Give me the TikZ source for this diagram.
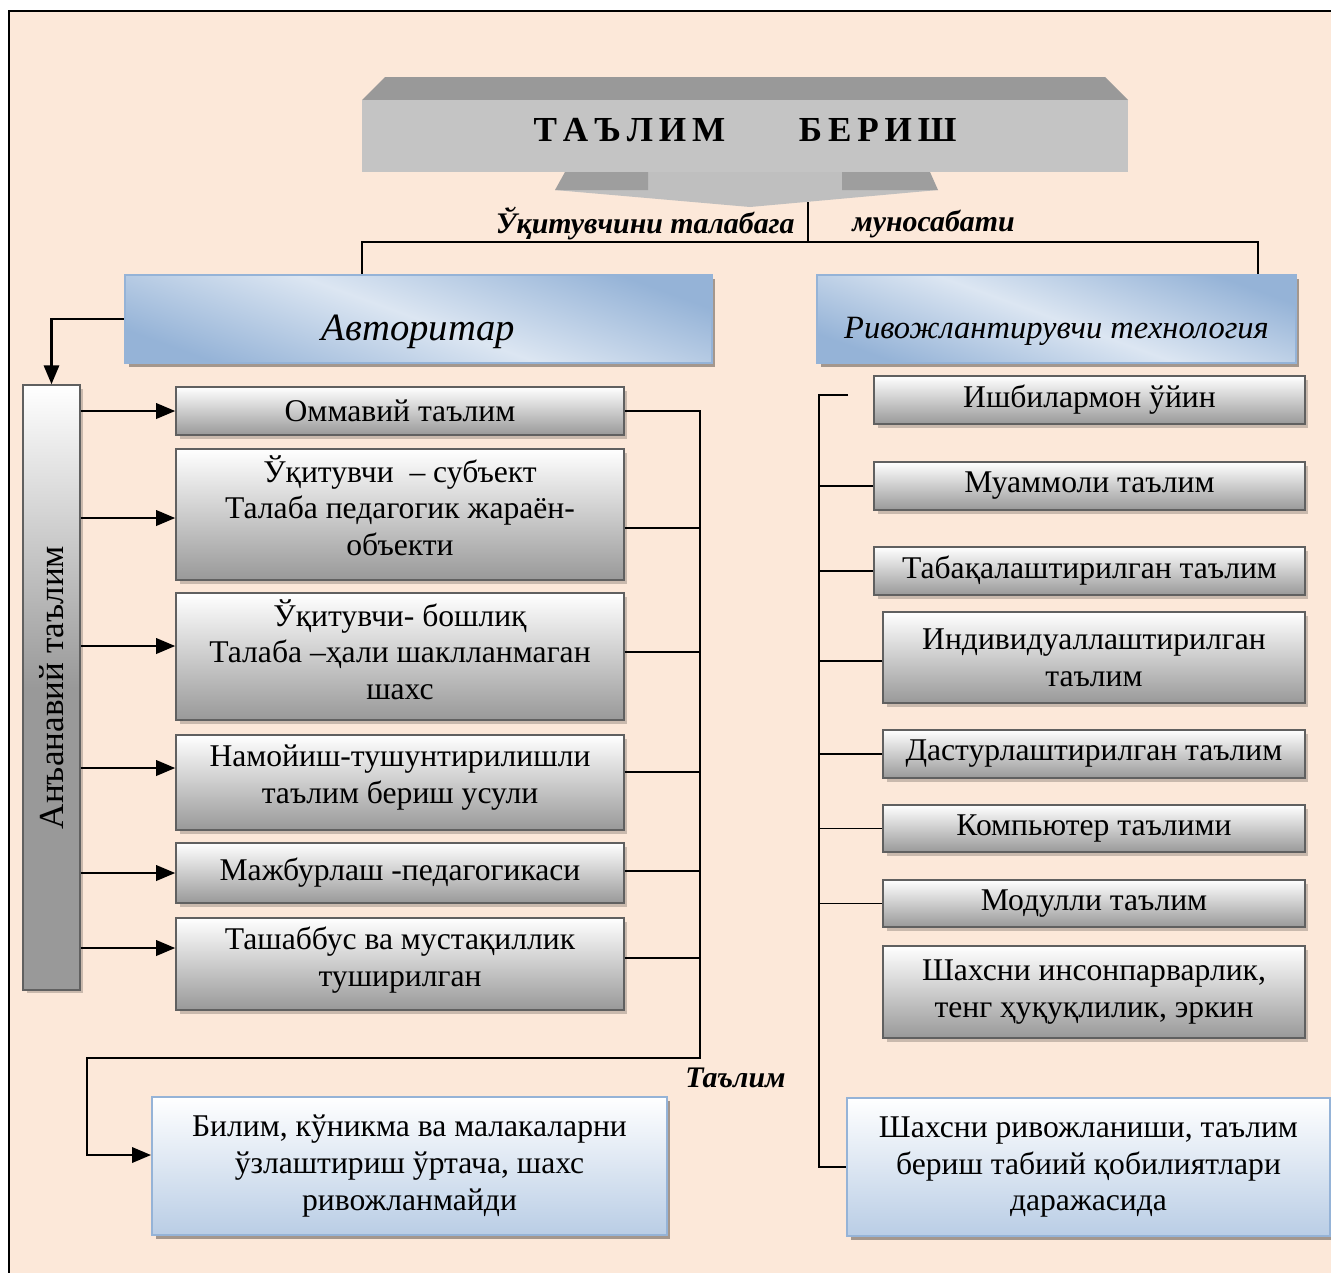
\documentclass[tikz,border=0pt]{standalone}
\usepackage{fontspec}
\setmainfont{Liberation Serif}
\usetikzlibrary{arrows,calc,shadows}
\definecolor{peach}{HTML}{FCE8D9}
\definecolor{lightblue}{HTML}{DCE6F2}
\definecolor{midblue}{HTML}{95B3D7}
\definecolor{paleblue}{HTML}{B9CDE5}
\definecolor{boxgray}{HTML}{999999}
\definecolor{edgegray}{HTML}{606060}

\begin{document}
\begin{tikzpicture}[x=0.02cm,y=-0.02cm]
\tikzstyle{graybox} = [draw=edgegray, line width=1.1pt, top color=white, bottom color=boxgray, align=center, inner sep=0pt,
  font=\fontsize{18}{21}\selectfont, drop shadow={shadow xshift=0.07cm, shadow yshift=-0.07cm, fill=black, opacity=0.2}]
\tikzstyle{headbox} = [draw=midblue, line width=1.3pt, top color=midblue, bottom color=midblue, middle color=lightblue, shading angle=-20,
  drop shadow={shadow xshift=0.07cm, shadow yshift=-0.07cm, fill=black, opacity=0.35}]
\tikzstyle{resbox} = [draw=midblue, line width=1.3pt, top color=white, bottom color=paleblue, align=center, inner sep=0pt,
  font=\fontsize{18}{21}\selectfont, drop shadow={shadow xshift=0.07cm, shadow yshift=-0.07cm, fill=black, opacity=0.35}]
\tikzstyle{line} = [line width=1pt]
\tikzstyle{arr} = [line width=1.5pt, -triangle 45]
\tikzstyle{tag} = [font=\bfseries\itshape\fontsize{17}{20}\selectfont, inner sep=0pt]

\useasboundingbox (0,0) rectangle (1331,1272);
\fill[white] (0,0) rectangle (1331,1272);
\draw[fill=peach, line width=1.2pt] (9,11) rectangle (1400,1350);

% title block
\fill[black!40] (385,77) -- (1105,77) -- (1128,100) -- (362,100) -- cycle;
\node[fill=black!23, minimum width=15.32cm, minimum height=1.44cm, font=\bfseries\fontsize{20}{24}\selectfont] (title) at (745,136)
  {\raisebox{0.24cm}{Т\,А\,Ъ\,Л\,И\,М\hspace{2.1em}Б\,Е\,Р\,И\,Ш}};
\fill[black!25] (555,190) -- (648,190) -- (648,172) -- (842,172) -- (842,190) -- (938,190) -- (750,207) -- cycle;
\fill[black!38] (565,172) -- (648,172) -- (648,190) -- (555,190) -- cycle;
\fill[black!38] (842,172) -- (930,172) -- (938,190) -- (842,190) -- cycle;
\coordinate (split) at (808,242);

\node[tag, anchor=east] (rel1) at (795,224) {Ўқитувчини талабага};
\node[tag, anchor=west] (rel2) at (852,224) {муносабати};

% two branches
\node[headbox, minimum width=11.74cm, minimum height=1.76cm,
  label={[yshift=-0.26cm, font=\itshape\fontsize{22}{26}\selectfont]center:Авторитар}] (avt) at (418.5,319) {};
\node[headbox, minimum width=9.58cm, minimum height=1.76cm,
  label={[yshift=-0.24cm, font=\itshape\fontsize{18.5}{22}\selectfont]center:Ривожлантирувчи технология}] (rvj) at (1056.5,319) {};

% left column
\node[graybox, middle color=boxgray, minimum width=1.14cm, minimum height=12.1cm] (tv) at (51.5,687.5) {};
\node[rotate=90, font=\fontsize{20}{24}\selectfont] (tvtext) at (tv.center) {Анъанавий таълим};

\node[graybox, minimum width=8.96cm, minimum height=0.96cm] (b1) at (400,411) {Оммавий таълим};
\node[graybox, minimum width=8.96cm, minimum height=2.62cm] (b2) at (400,514.5) {Ўқитувчи\ \ – субъект\\Талаба педагогик жараён-\\объекти\rule[-0.36cm]{0pt}{0pt}};
\node[graybox, minimum width=8.96cm, minimum height=2.54cm] (b3) at (400,656.5) {Ўқитувчи- бошлиқ\\Талаба –ҳали шаклланмаган\\шахс\rule[-0.28cm]{0pt}{0pt}};
\node[graybox, minimum width=8.96cm, minimum height=1.9cm] (b4) at (400,782.5) {Намойиш-тушунтирилишли\\таълим бериш усули\rule[-0.34cm]{0pt}{0pt}};
\node[graybox, minimum width=8.96cm, minimum height=1.2cm] (b5) at (400,873) {Мажбурлаш -педагогикаси};
\node[graybox, minimum width=8.96cm, minimum height=1.84cm] (b6) at (400,964) {Ташаббус ва мустақиллик\\туширилган\rule[-0.3cm]{0pt}{0pt}};

\node[resbox, minimum width=10.3cm, minimum height=2.76cm] (bil) at (409.5,1166) {Билим, кўникма ва малакаларни\\ўзлаштириш ўртача, шахс\\ривожланмайди};
\coordinate (lbus) at (700,1058);
\node[tag, anchor=west] (tlm) at (685,1078) {Таълим};

% right column
\node[graybox, minimum width=8.62cm, minimum height=0.96cm] (r1) at (1089.5,400) {Ишбилармон ўйин};
\node[graybox, minimum width=8.62cm, minimum height=0.96cm] (r2) at (1089.5,486) {Муаммоли таълим};
\node[graybox, minimum width=8.62cm, minimum height=0.96cm] (r3) at (1089.5,571) {Табақалаштирилган таълим};
\node[graybox, minimum width=8.44cm, minimum height=1.82cm] (r4) at (1094,657.5) {Индивидуаллаштирилган\\таълим};
\node[graybox, minimum width=8.44cm, minimum height=0.96cm] (r5) at (1094,754) {Дастурлаштирилган таълим};
\node[graybox, minimum width=8.44cm, minimum height=0.94cm] (r6) at (1094,828.5) {Компьютер таълими};
\node[graybox, minimum width=8.44cm, minimum height=0.94cm] (r7) at (1094,903.5) {Модулли таълим};
\node[graybox, minimum width=8.44cm, minimum height=1.84cm] (r8) at (1094,992) {Шахсни инсонпарварлик,\\тенг ҳуқуқлилик, эркин};
\node[resbox, minimum width=9.66cm, minimum height=2.76cm] (r9) at (1088.5,1167) {Шахсни ривожланиши, таълим\\бериш табиий қобилиятлари\\даражасида};
\coordinate (rbus) at (819,395);
\coordinate (rstub) at (848,395);

% connectors
\draw[line] (split) -- ++(0,-40);
\draw[line] ([xshift=-1.13cm]avt.north) |- (split) -| ([xshift=4.03cm]rvj.north);
\draw[arr] (avt.west) -| (tv.north);

\foreach \b/\s in {b1/0,b2/-0.07,b3/0.21,b4/0.29,b5/0,b6/0.32}{
  \path ([yshift=\s cm]\b.west) coordinate (t);
  \draw[arr] (tv.east |- t) -- (t);
}
\foreach \b/\s in {b2/-0.27,b3/0.09,b4/0.21,b5/0.04,b6/0.12}{
  \path ([yshift=\s cm]\b.east) coordinate (t);
  \draw[line] (t) -- (t -| lbus);
}
\draw[arr] (b1.east) -| (lbus) -| ([xshift=-1.28cm,yshift=0.22cm]bil.west) -- ([yshift=0.22cm]bil.west);

\draw[line] (rstub) -- (rbus) |- (r9.west);
\foreach \r/\s in {r2/0,r3/0,r4/-0.07,r5/0,r6/0,r7/0}{
  \path ([yshift=\s cm]\r.west) coordinate (t);
  \draw[line] (t) -- (t -| rbus);
}
\end{tikzpicture}
\end{document}
